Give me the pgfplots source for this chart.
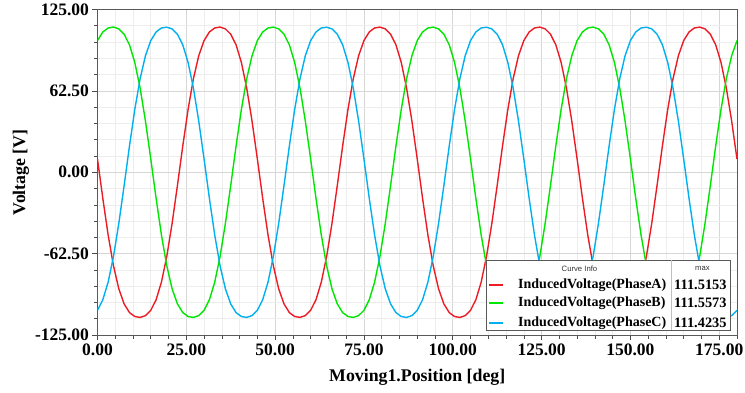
\documentclass[border=0pt]{standalone}
\usepackage{fontspec}
\setmainfont{Liberation Serif}
\newfontfamily\arialfont{Liberation Sans}
\usepackage{pgfplots}
\usepackage{pgfplotstable}
\pgfplotsset{compat=1.18}
\definecolor{cA}{RGB}{237,28,36}
\definecolor{cB}{RGB}{0,230,0}
\definecolor{cC}{RGB}{0,176,240}
\pgfplotstableread{
x A B C
0 10.11 101.15 -106.02
1.5 -20.10 107.76 -97.90
3 -48.27 110.81 -84.34
4.5 -71.88 111.56 -64.64
6 -89.53 110.10 -39.28
7.5 -101.15 106.02 -10.11
9 -107.76 97.90 20.10
10.5 -110.81 84.34 48.27
12 -111.48 64.64 71.88
13.5 -110.10 39.28 89.53
15 -106.02 10.11 101.15
16.5 -97.90 -20.10 107.76
18 -84.34 -48.27 110.81
19.5 -64.64 -71.88 111.42
21 -39.28 -89.53 110.10
22.5 -10.11 -101.15 106.02
24 20.10 -107.76 97.90
25.5 48.27 -110.81 84.34
27 71.88 -111.48 64.64
28.5 89.53 -110.10 39.28
30 101.15 -106.02 10.11
31.5 107.76 -97.90 -20.10
33 110.81 -84.34 -48.27
34.5 111.52 -64.64 -71.88
36 110.10 -39.28 -89.53
37.5 106.02 -10.11 -101.15
39 97.90 20.10 -107.76
40.5 84.34 48.27 -110.81
42 64.64 71.88 -111.48
43.5 39.28 89.53 -110.10
45 10.11 101.15 -106.02
46.5 -20.10 107.76 -97.90
48 -48.27 110.81 -84.34
49.5 -71.88 111.48 -64.64
51 -89.53 110.10 -39.28
52.5 -101.15 106.02 -10.11
54 -107.76 97.90 20.10
55.5 -110.81 84.34 48.27
57 -111.48 64.64 71.88
58.5 -110.10 39.28 89.53
60 -106.02 10.11 101.15
61.5 -97.90 -20.10 107.76
63 -84.34 -48.27 110.81
64.5 -64.64 -71.88 111.40
66 -39.28 -89.53 110.10
67.5 -10.11 -101.15 106.02
69 20.10 -107.76 97.90
70.5 48.27 -110.81 84.34
72 71.88 -111.48 64.64
73.5 89.53 -110.10 39.28
75 101.15 -106.02 10.11
76.5 107.76 -97.90 -20.10
78 110.81 -84.34 -48.27
79.5 111.48 -64.64 -71.88
81 110.10 -39.28 -89.53
82.5 106.02 -10.11 -101.15
84 97.90 20.10 -107.76
85.5 84.34 48.27 -110.81
87 64.64 71.88 -111.48
88.5 39.28 89.53 -110.10
90 10.11 101.15 -106.02
91.5 -20.10 107.76 -97.90
93 -48.27 110.81 -84.34
94.5 -71.88 111.48 -64.64
96 -89.53 110.10 -39.28
97.5 -101.15 106.02 -10.11
99 -107.76 97.90 20.10
100.5 -110.81 84.34 48.27
102 -111.48 64.64 71.88
103.5 -110.10 39.28 89.53
105 -106.02 10.11 101.15
106.5 -97.90 -20.10 107.76
108 -84.34 -48.27 110.81
109.5 -64.64 -71.88 111.40
111 -39.28 -89.53 110.10
112.5 -10.11 -101.15 106.02
114 20.10 -107.76 97.90
115.5 48.27 -110.81 84.34
117 71.88 -111.48 64.64
118.5 89.53 -110.10 39.28
120 101.15 -106.02 10.11
121.5 107.76 -97.90 -20.10
123 110.81 -84.34 -48.27
124.5 111.48 -64.64 -71.88
126 110.10 -39.28 -89.53
127.5 106.02 -10.11 -101.15
129 97.90 20.10 -107.76
130.5 84.34 48.27 -110.81
132 64.64 71.88 -111.48
133.5 39.28 89.53 -110.10
135 10.11 101.15 -106.02
136.5 -20.10 107.76 -97.90
138 -48.27 110.81 -84.34
139.5 -71.88 111.48 -64.64
141 -89.53 110.10 -39.28
142.5 -101.15 106.02 -10.11
144 -107.76 97.90 20.10
145.5 -110.81 84.34 48.27
147 -111.48 64.64 71.88
148.5 -110.10 39.28 89.53
150 -106.02 10.11 101.15
151.5 -97.90 -20.10 107.76
153 -84.34 -48.27 110.81
154.5 -64.64 -71.88 111.40
156 -39.28 -89.53 110.10
157.5 -10.11 -101.15 106.02
159 20.10 -107.76 97.90
160.5 48.27 -110.81 84.34
162 71.88 -111.48 64.64
163.5 89.53 -110.10 39.28
165 101.15 -106.02 10.11
166.5 107.76 -97.90 -20.10
168 110.81 -84.34 -48.27
169.5 111.48 -64.64 -71.88
171 110.10 -39.28 -89.53
172.5 106.02 -10.11 -101.15
174 97.90 20.10 -107.76
175.5 84.34 48.27 -110.81
177 64.64 71.88 -111.48
178.5 39.28 89.53 -110.10
180 10.11 101.15 -106.02
}\datatable
\begin{document}
\begin{tikzpicture}
\path[use as bounding box] (-97.5pt,-57pt) rectangle (647.5pt,335pt);
\begin{axis}[
  at={(0pt,0pt)}, anchor=south west,
  width=639.5pt, height=325.5pt, scale only axis,
  xmin=0, xmax=180, ymin=-125, ymax=125,
  xtick={0,25,...,175},
  minor xtick={5,10,...,180},
  ytick={-125,-62.5,0,62.5,125},
  minor ytick={-112.5,-100,...,112.5},
  grid=both,
  major grid style={gray!32, line width=0.7pt},
  minor grid style={gray!14, line width=0.6pt},
  tick align=outside, tick pos=left,
  major tick length=5pt, minor tick length=3.5pt,
  every tick/.style={gray!60!black, line width=0.6pt},
  axis line style={gray!70!black, line width=0.8pt},
  tick label style={font=\fontsize{17.5}{20}\selectfont\bfseries},
  /pgf/number format/.cd, fixed, fixed zerofill, precision=2, assume math mode=true,
  /pgfplots/.cd,
  xlabel={Moving1.Position [deg]},
  ylabel={Voltage [V]},
  label style={font=\fontsize{17.8}{20}\selectfont\bfseries},
  xlabel style={at={(rel axis cs:0.5,0)}, anchor=center, inner sep=0pt, yshift=-42.3pt},
  ylabel style={at={(rel axis cs:0,0.5)}, anchor=center, inner sep=0pt, yshift=76.5pt},
]
\addplot[cA, line width=1.4pt] table[x=x, y=A] {\datatable};
\addplot[cB, line width=1.4pt] table[x=x, y=B] {\datatable};
\addplot[cC, line width=1.4pt] table[x=x, y=C] {\datatable};
\end{axis}
% legend box
\fill[white] (389.2pt,5pt) rectangle (632.5pt,75pt);
\draw[gray!70!black, line width=0.8pt] (389.2pt,5pt) rectangle (632.5pt,75pt);
\draw[gray!50, line width=0.6pt] (574.2pt,5pt) -- (574.2pt,75pt);
\node[font=\arialfont\fontsize{7.7}{9}\selectfont, text=black!80] at (482pt,66.7pt) {Curve Info};
\node[font=\arialfont\fontsize{7.7}{9}\selectfont, text=black!80] at (605pt,66.7pt) {max};
\node[anchor=west, inner sep=0pt] at (391.5pt,50pt) {\textcolor{cA}{\rule[-0.9pt]{14pt}{1.8pt}}};
\node[anchor=west, inner sep=0pt] at (391.5pt,31.7pt) {\textcolor{cB}{\rule[-0.9pt]{14pt}{1.8pt}}};
\node[anchor=west, inner sep=0pt] at (391.5pt,12.3pt) {\textcolor{cC}{\rule[-0.9pt]{14pt}{1.8pt}}};
\node[anchor=west, inner sep=0pt, font=\fontsize{14}{16}\selectfont\bfseries] at (420.5pt,50pt) {InducedVoltage(PhaseA)};
\node[anchor=west, inner sep=0pt, font=\fontsize{14}{16}\selectfont\bfseries] at (420.5pt,31.7pt) {InducedVoltage(PhaseB)};
\node[anchor=west, inner sep=0pt, font=\fontsize{14}{16}\selectfont\bfseries] at (420.5pt,12.3pt) {InducedVoltage(PhaseC)};
\node[anchor=west, inner sep=0pt, font=\fontsize{14.4}{16}\selectfont\bfseries] at (576.5pt,50pt) {111.5153};
\node[anchor=west, inner sep=0pt, font=\fontsize{14.4}{16}\selectfont\bfseries] at (576.5pt,31.7pt) {111.5573};
\node[anchor=west, inner sep=0pt, font=\fontsize{14.4}{16}\selectfont\bfseries] at (576.5pt,12.3pt) {111.4235};
\end{tikzpicture}
\end{document}
